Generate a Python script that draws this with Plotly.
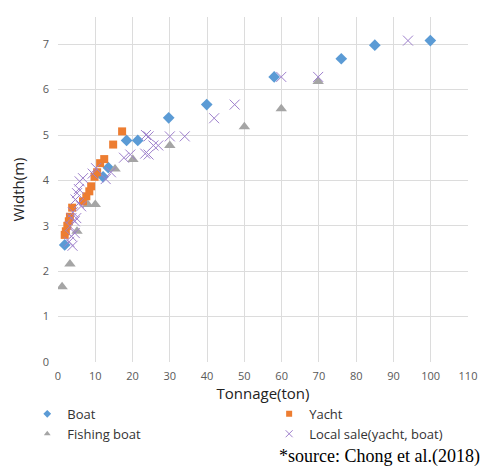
import plotly.graph_objects as go

boat_x = [1.8, 12.1, 13.5, 18.4, 21.4, 29.7, 39.9, 58.0, 76.0, 85.0, 99.9]
boat_y = [2.58, 4.08, 4.28, 4.88, 4.88, 5.38, 5.67, 6.28, 6.68, 6.98, 7.08]

yacht_x = [1.8, 2.1, 2.5, 2.9, 3.2, 3.8, 6.7, 7.6, 8.4, 8.9, 9.8, 10.5, 11.3, 12.4, 14.8, 17.2]
yacht_y = [2.8, 2.88, 3.0, 3.1, 3.2, 3.4, 3.54, 3.65, 3.76, 3.87, 4.08, 4.18, 4.38, 4.47, 4.79, 5.08]

fish_x = [1.1, 3.2, 5.1, 8.0, 10.0, 15.3, 20.1, 30.0, 50.0, 59.9, 69.8]
fish_y = [1.66, 2.16, 2.88, 3.47, 3.47, 4.25, 4.46, 4.77, 5.18, 5.58, 6.18]

local_x = [3.0, 3.2, 3.6, 3.6, 3.9, 4.0, 4.5, 4.5, 4.7, 4.9, 5.1, 5.6, 5.6, 5.8, 6.2, 6.7,
           9.3, 10.2, 12.8, 14.2, 17.7, 19.4, 23.4, 23.6, 24.3, 24.3, 25.6, 26.9, 30.0,
           34.0, 41.9, 47.4, 59.9, 69.8, 93.9]
local_y = [2.65, 2.99, 3.17, 2.77, 2.56, 3.3, 3.1, 2.84, 3.58, 3.17, 3.72, 3.81, 3.5, 3.98, 3.43, 4.05,
           4.15, 4.27, 4.03, 4.18, 4.5, 4.57, 4.59, 5.0, 4.97, 4.57, 4.77, 4.77, 4.97,
           4.97, 5.37, 5.67, 6.28, 6.28, 7.08]

x_ticks = list(range(0, 111, 10))
y_ticks = list(range(0, 8))

C_BOAT, C_FISH, C_YACHT, C_LOCAL = "#5B9BD5", "#A5A5A5", "#ED7D31", "#9E80CC"

fig = go.Figure()
# data traces (legend entries drawn by small legend-only traces below)
fig.add_trace(go.Scatter(x=boat_x, y=boat_y, mode="markers", name="Boat", showlegend=False,
                         marker=dict(symbol="diamond", size=9, color=C_BOAT)))
fig.add_trace(go.Scatter(x=fish_x, y=fish_y, mode="markers", name="Fishing boat", showlegend=False,
                         marker=dict(symbol="triangle-up", size=10, color=C_FISH)))
fig.add_trace(go.Scatter(x=yacht_x, y=yacht_y, mode="markers", name="Yacht", showlegend=False,
                         marker=dict(symbol="square", size=8, color=C_YACHT)))
fig.add_trace(go.Scatter(x=local_x, y=local_y, mode="markers", name="Local sale(yacht, boat)",
                         showlegend=False,
                         marker=dict(symbol="x-thin", size=10, color=C_LOCAL,
                                     line=dict(width=1, color=C_LOCAL))))

# legend entries with small symbols
def leg(name, symbol, color, legend, size=6, line=None):
    m = dict(symbol=symbol, size=size, color=color)
    if line:
        m["line"] = line
    fig.add_trace(go.Scatter(x=[None], y=[None], mode="markers", name=name,
                             marker=m, legend=legend, hoverinfo="skip"))

leg("Boat", "diamond", C_BOAT, "legend")
leg("Fishing boat", "triangle-up", C_FISH, "legend")
leg("Yacht", "square", C_YACHT, "legend2")
leg("Local sale(yacht, boat)", "x-thin", C_LOCAL, "legend2", size=7,
    line=dict(width=1, color=C_LOCAL))

axis_common = dict(showgrid=True, gridcolor="#DCDCDC", gridwidth=1, zeroline=False,
                   showline=False, ticks="",
                   tickfont=dict(family="Open Sans", size=11, color="#595959"))

fig.update_layout(
    width=489, height=473,
    margin=dict(l=58, r=16, t=17, b=111),
    paper_bgcolor="white", plot_bgcolor="white",
    xaxis=dict(range=[0, 110], tickvals=x_ticks, ticklabelstandoff=6,
               title=dict(text="Tonnage(ton)", standoff=4,
                          font=dict(family="Open Sans", size=15, color="#222222")),
               **axis_common),
    yaxis=dict(range=[0, 7.6], tickvals=y_ticks, ticklabelstandoff=8,
               title=dict(text="Width(m)", standoff=14,
                          font=dict(family="Open Sans", size=15, color="#222222")),
               **axis_common),
    legend=dict(x=-0.075, y=-0.107, xanchor="left", yanchor="top",
                font=dict(family="Open Sans", size=13, color="#333333"),
                bgcolor="rgba(0,0,0,0)", tracegroupgap=0),
    legend2=dict(x=0.515, y=-0.107, xanchor="left", yanchor="top",
                 font=dict(family="Open Sans", size=13, color="#333333"),
                 bgcolor="rgba(0,0,0,0)", tracegroupgap=0),
    annotations=[dict(text="*source: Chong et al.(2018)", xref="paper", yref="paper",
                      x=1.035, y=-0.275, xanchor="right", yanchor="middle", showarrow=False,
                      font=dict(family="Liberation Serif", size=18, color="#000000"))],
)

fig.write_html("out.html", config={"displayModeBar": False},
               post_script="document.body.style.margin='0';document.body.style.overflow='hidden';")
